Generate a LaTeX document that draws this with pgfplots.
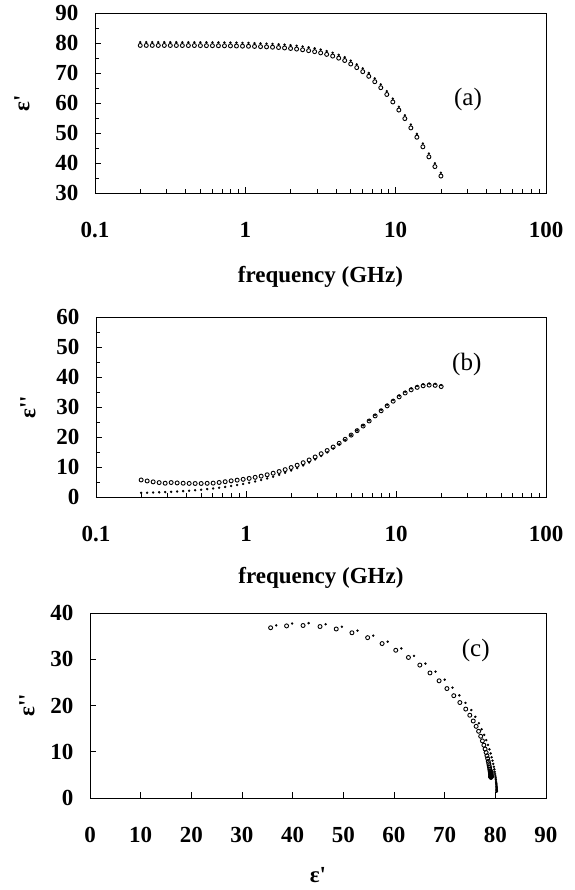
\documentclass[border=0pt]{standalone}
\usepackage{fontspec}
\setmainfont{Liberation Serif}
\usepackage{pgfplots}
\usepackage{pgfplotstable}
\pgfplotsset{compat=1.18}

% f (GHz), eps' circles, eps'' circles, eps' dots, eps'' dots
\pgfplotstableread{
f       epa    eppa   epb    eppb
0.2000  79.19  5.68   80.29  1.39
0.2193  79.19  5.34   80.29  1.43
0.2404  79.19  5.05   80.29  1.49
0.2636  79.18  4.80   80.28  1.55
0.2891  79.18  4.59   80.28  1.63
0.3170  79.17  4.82   80.27  1.73
0.3476  79.17  4.69   80.27  1.83
0.3811  79.16  4.59   80.26  1.96
0.4179  79.15  4.53   80.25  2.10
0.4582  79.15  4.50   80.25  2.26
0.5024  79.13  4.51   80.23  2.43
0.5509  79.12  4.56   80.22  2.63
0.6040  79.11  4.63   80.21  2.85
0.6623  79.09  4.85   80.19  3.09
0.7262  79.06  5.10   80.16  3.36
0.7962  79.04  5.39   80.14  3.66
0.8730  79.00  5.62   80.10  3.99
0.9573  78.96  5.89   80.06  4.35
1.0496  78.92  6.20   80.02  4.75
1.1509  78.86  6.56   79.96  5.18
1.2619  78.79  6.96   79.89  5.66
1.3836  78.71  7.42   79.81  6.19
1.5171  78.61  7.93   79.71  6.76
1.6635  78.49  8.50   79.59  7.39
1.8240  78.35  9.13   79.45  8.08
2.0000  78.18  9.83   79.28  8.82
2.1930  77.98  10.59  79.08  9.64
2.4045  77.74  11.43  78.84  10.53
2.6365  77.45  12.35  78.55  11.49
2.8909  77.11  13.35  78.21  12.53
3.1698  76.70  14.43  77.80  13.66
3.4756  76.21  15.50  77.31  14.87
3.8109  75.64  16.65  76.74  16.17
4.1786  74.96  17.90  76.06  17.55
4.5817  74.16  19.23  75.26  19.02
5.0238  73.00  20.64  74.10  20.57
5.5085  71.80  22.12  72.90  22.19
6.0399  70.45  23.66  71.55  23.87
6.6226  68.90  25.34  70.00  25.59
7.2616  67.10  27.04  68.20  27.33
7.9621  65.10  28.74  66.20  29.06
8.7303  62.85  30.39  63.95  30.74
9.5726  60.35  31.95  61.45  32.34
10.496  57.65  33.39  58.75  33.81
11.509  54.80  34.67  55.90  35.11
12.619  51.70  35.73  52.80  36.20
13.836  48.60  36.54  49.70  37.03
15.171  45.40  37.07  46.50  37.57
16.635  42.05  37.30  43.15  37.81
18.240  38.80  37.21  39.90  37.72
20.000  35.65  36.81  36.75  37.32
}\datatable

\pgfplotsset{
  myax/.style={
    scale only axis,
    axis line style={line width=0.8pt},
    tick style={black, line width=0.6pt},
    tick align=inside,
    tick pos=left,
    major tick length=6pt,
    minor tick length=4pt,
    ticklabel style={font=\fontsize{23}{23}\selectfont\bfseries},
    /pgf/number format/assume math mode=true,
    xticklabel style={yshift=-26pt},
    yticklabel style={xshift=-13pt},
    label style={font=\fontsize{23}{23}\selectfont\bfseries},
    xlabel style={anchor=center},
    ylabel style={anchor=center},
  },
  circ/.style={only marks, mark=o, mark size=2.0pt, black, mark options={line width=0.9pt}},
  dots/.style={only marks, mark=*, mark size=1.0pt, black},
}

\begin{document}
\begin{tikzpicture}
\useasboundingbox (0,0) rectangle (574pt,-890pt);

% (a)
\begin{semilogxaxis}[myax,
  xmin=0.1, xmax=100,
  xtick={0.1,1,10,100}, xticklabels={0.1,1,10,100},
  minor xtick={0.2,0.3,0.4,0.5,0.6,0.7,0.8,0.9,2,3,4,5,6,7,8,9,20,30,40,50,60,70,80,90},
  at={(95pt,-193pt)}, anchor=south west,
  width=451pt, height=180pt,
  ymin=30, ymax=90, ytick={30,40,...,90}, minor ytick={35,45,...,85},
  xlabel={frequency (GHz)},
  xlabel style={at={(axis description cs:0.5,-0.4667)}},
  ylabel={ε\textquotesingle},
  ylabel style={at={(axis description cs:-0.1619,0.5)}},
]
\addplot[circ] table[x=f, y=epa] {\datatable};
\addplot[dots] table[x=f, y=epb] {\datatable};
\node[font=\fontsize{25}{25}\selectfont] at (rel axis cs:0.827,0.517) {(a)};
\end{semilogxaxis}

% (b)
\begin{semilogxaxis}[myax,
  xmin=0.1, xmax=100,
  xtick={0.1,1,10,100}, xticklabels={0.1,1,10,100},
  minor xtick={0.2,0.3,0.4,0.5,0.6,0.7,0.8,0.9,2,3,4,5,6,7,8,9,20,30,40,50,60,70,80,90},
  at={(96pt,-497pt)}, anchor=south west,
  width=450pt, height=180pt,
  ymin=0, ymax=60, ytick={0,10,...,60}, minor ytick={5,15,...,55},
  xlabel={frequency (GHz)},
  xlabel style={at={(axis description cs:0.5,-0.45)}},
  ylabel={ε\textquotesingle\textquotesingle},
  ylabel style={at={(axis description cs:-0.1511,0.5)}},
]
\addplot[circ] table[x=f, y=eppa] {\datatable};
\addplot[dots] table[x=f, y=eppb] {\datatable};
\node[font=\fontsize{25}{25}\selectfont] at (rel axis cs:0.824,0.739) {(b)};
\end{semilogxaxis}

% (c)
\begin{axis}[myax,
  at={(90pt,-798pt)}, anchor=south west,
  width=456pt, height=185pt,
  xmin=0, xmax=90, xtick={0,10,...,90},
  ymin=0, ymax=40, ytick={0,10,...,40},
  xlabel={ε\textquotesingle},
  xlabel style={at={(axis description cs:0.5,-0.416)}},
  ylabel={ε\textquotesingle\textquotesingle},
  ylabel style={at={(axis description cs:-0.1382,0.5)}},
]
\addplot[circ] table[x=epa, y=eppa] {\datatable};
\addplot[dots] table[x=epb, y=eppb] {\datatable};
\node[font=\fontsize{25}{25}\selectfont] at (rel axis cs:0.846,0.795) {(c)};
\end{axis}
\end{tikzpicture}
\end{document}
